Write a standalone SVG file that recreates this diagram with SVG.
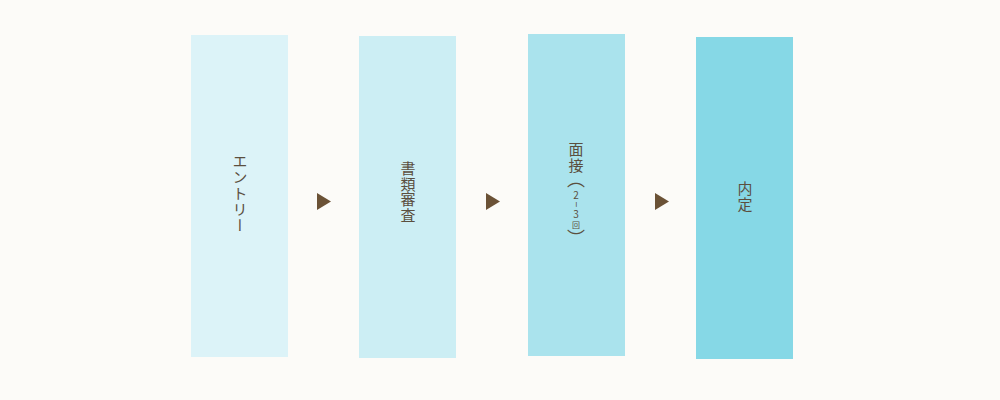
<svg xmlns="http://www.w3.org/2000/svg" width="1000" height="400" viewBox="0 0 1000 400">
<style>
.lbl{font-family:"Noto Sans CJK JP","Noto Sans",sans-serif;font-size:15px;fill:#5b4f3f;writing-mode:vertical-rl;text-orientation:mixed}
.sm{font-family:"Noto Sans CJK JP","Noto Sans",sans-serif;fill:#5b4f3f;text-anchor:middle}
.arr{fill:#6b5236}
</style>
<rect width="1000" height="400" fill="#fcfbf8"/>
<g id="node-entry">
<rect x="191" y="35" width="97" height="322" fill="#dcf3f8"/>
<text class="lbl" x="240" y="154" letter-spacing="1">エントリー</text>
</g>
<g id="node-shorui">
<rect x="359" y="36" width="97" height="322" fill="#cceef4"/>
<text class="lbl" x="408" y="161" letter-spacing="0.5">書類審査</text>
</g>
<g id="node-mensetsu">
<rect x="528" y="34" width="97" height="322" fill="#aae3ed"/>
<text class="lbl" x="576" y="142" letter-spacing="1">面接</text>
<text class="lbl" x="576" y="170" style="font-size:18px">（</text>
<text class="sm" x="576" y="199" font-size="10">2</text>
<text class="sm" x="576" y="207.8" font-size="11" transform="rotate(90 576 204.5)">–</text>
<text class="sm" x="576" y="217.5" font-size="10">3</text>
<text class="sm" x="576" y="227.5" font-size="8">回</text>
<text class="lbl" x="576" y="229" style="font-size:18px">）</text>
</g>
<g id="node-naitei">
<rect x="696" y="37" width="97" height="322" fill="#86d8e6"/>
<text class="lbl" x="745" y="181" letter-spacing="1">内定</text>
</g>
<g id="connectors">
<polygon class="arr" points="317,193 331,201.5 317,210"/>
<polygon class="arr" points="486,193 500,201.5 486,210"/>
<polygon class="arr" points="655,193 669,201.5 655,210"/>
</g>
</svg>
